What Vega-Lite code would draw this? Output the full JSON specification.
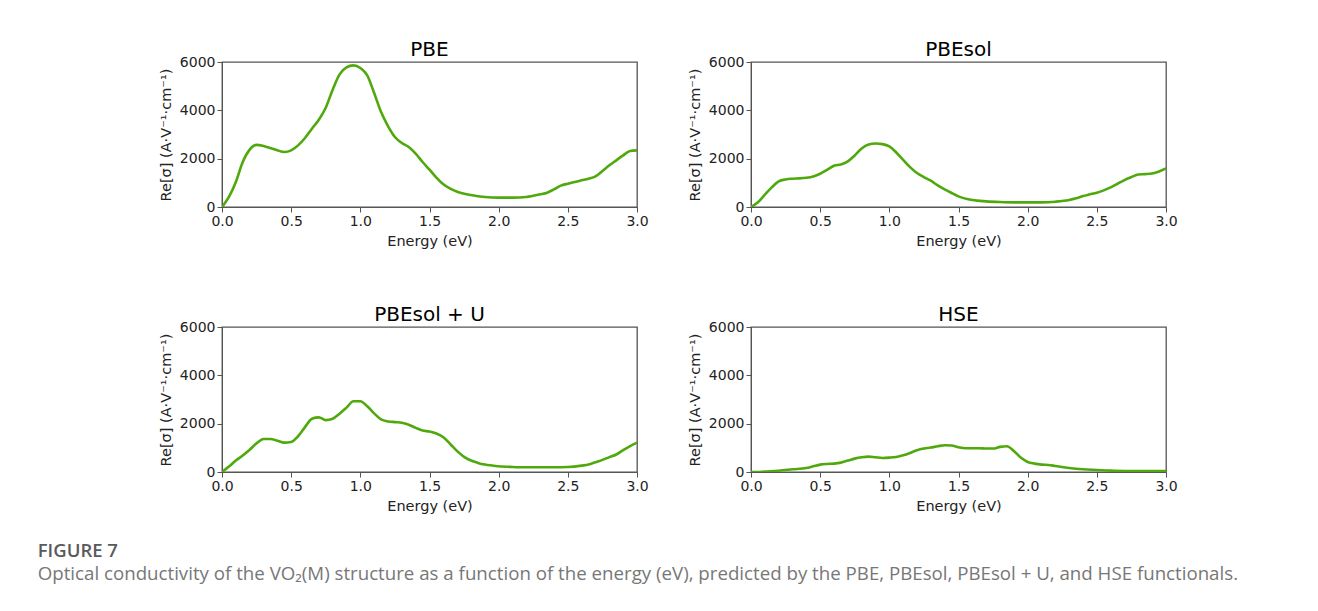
{
  "$schema": "https://vega.github.io/schema/vega-lite/v6.json",
  "background": "white",
  "padding": {"left": 37, "top": 39, "right": 5, "bottom": 5},
  "title": {
    "text": "FIGURE 7",
    "subtitle": "Optical conductivity of the VO₂(M) structure as a function of the energy (eV), predicted by the PBE, PBEsol, PBEsol + U, and HSE functionals.",
    "orient": "bottom",
    "anchor": "start",
    "frame": "bounds",
    "dx": -120,
    "offset": 29,
    "font": "Open Sans",
    "fontSize": 18.5,
    "fontWeight": 600,
    "color": "#5a5a5a",
    "subtitleFont": "Open Sans",
    "subtitleFontSize": 18.7,
    "subtitleColor": "#777777",
    "subtitlePadding": 4
  },
  "data": {"values": [
    {"m":"PBE","e":0,"s":0},{"m":"PBE","e":0.05,"s":414},{"m":"PBE","e":0.1,"s":1034},{"m":"PBE","e":0.15,"s":1862},{"m":"PBE","e":0.2,"s":2372},{"m":"PBE","e":0.25,"s":2570},{"m":"PBE","e":0.3,"s":2524},{"m":"PBE","e":0.35,"s":2441},{"m":"PBE","e":0.4,"s":2345},{"m":"PBE","e":0.45,"s":2276},{"m":"PBE","e":0.5,"s":2345},{"m":"PBE","e":0.55,"s":2551},{"m":"PBE","e":0.6,"s":2855},{"m":"PBE","e":0.65,"s":3241},{"m":"PBE","e":0.7,"s":3613},{"m":"PBE","e":0.75,"s":4110},{"m":"PBE","e":0.8,"s":4855},{"m":"PBE","e":0.85,"s":5490},{"m":"PBE","e":0.9,"s":5780},{"m":"PBE","e":0.95,"s":5860},{"m":"PBE","e":1.0,"s":5752},{"m":"PBE","e":1.05,"s":5448},{"m":"PBE","e":1.1,"s":4717},{"m":"PBE","e":1.15,"s":3931},{"m":"PBE","e":1.2,"s":3351},{"m":"PBE","e":1.25,"s":2897},{"m":"PBE","e":1.3,"s":2648},{"m":"PBE","e":1.35,"s":2483},{"m":"PBE","e":1.4,"s":2207},{"m":"PBE","e":1.45,"s":1862},{"m":"PBE","e":1.5,"s":1545},{"m":"PBE","e":1.55,"s":1214},{"m":"PBE","e":1.6,"s":938},{"m":"PBE","e":1.65,"s":759},{"m":"PBE","e":1.7,"s":634},{"m":"PBE","e":1.8,"s":496},{"m":"PBE","e":1.9,"s":414},{"m":"PBE","e":2.0,"s":386},{"m":"PBE","e":2.1,"s":386},{"m":"PBE","e":2.2,"s":414},{"m":"PBE","e":2.3,"s":524},{"m":"PBE","e":2.35,"s":593},{"m":"PBE","e":2.4,"s":731},{"m":"PBE","e":2.45,"s":883},{"m":"PBE","e":2.5,"s":965},{"m":"PBE","e":2.55,"s":1034},{"m":"PBE","e":2.6,"s":1103},{"m":"PBE","e":2.65,"s":1172},{"m":"PBE","e":2.7,"s":1269},{"m":"PBE","e":2.75,"s":1489},{"m":"PBE","e":2.8,"s":1724},{"m":"PBE","e":2.85,"s":1931},{"m":"PBE","e":2.9,"s":2138},{"m":"PBE","e":2.95,"s":2317},{"m":"PBE","e":3.0,"s":2345},
    {"m":"PBEsol","e":0,"s":0},{"m":"PBEsol","e":0.05,"s":193},{"m":"PBEsol","e":0.1,"s":509},{"m":"PBEsol","e":0.15,"s":812},{"m":"PBEsol","e":0.2,"s":1060},{"m":"PBEsol","e":0.25,"s":1142},{"m":"PBEsol","e":0.3,"s":1170},{"m":"PBEsol","e":0.35,"s":1183},{"m":"PBEsol","e":0.4,"s":1211},{"m":"PBEsol","e":0.45,"s":1266},{"m":"PBEsol","e":0.5,"s":1376},{"m":"PBEsol","e":0.55,"s":1541},{"m":"PBEsol","e":0.6,"s":1706},{"m":"PBEsol","e":0.65,"s":1761},{"m":"PBEsol","e":0.7,"s":1885},{"m":"PBEsol","e":0.75,"s":2133},{"m":"PBEsol","e":0.8,"s":2422},{"m":"PBEsol","e":0.85,"s":2587},{"m":"PBEsol","e":0.9,"s":2628},{"m":"PBEsol","e":0.95,"s":2601},{"m":"PBEsol","e":1.0,"s":2504},{"m":"PBEsol","e":1.05,"s":2257},{"m":"PBEsol","e":1.1,"s":1954},{"m":"PBEsol","e":1.15,"s":1651},{"m":"PBEsol","e":1.2,"s":1404},{"m":"PBEsol","e":1.25,"s":1238},{"m":"PBEsol","e":1.3,"s":1087},{"m":"PBEsol","e":1.35,"s":894},{"m":"PBEsol","e":1.4,"s":729},{"m":"PBEsol","e":1.45,"s":578},{"m":"PBEsol","e":1.5,"s":440},{"m":"PBEsol","e":1.6,"s":289},{"m":"PBEsol","e":1.7,"s":234},{"m":"PBEsol","e":1.8,"s":206},{"m":"PBEsol","e":1.9,"s":193},{"m":"PBEsol","e":2.0,"s":193},{"m":"PBEsol","e":2.1,"s":193},{"m":"PBEsol","e":2.2,"s":220},{"m":"PBEsol","e":2.3,"s":289},{"m":"PBEsol","e":2.35,"s":358},{"m":"PBEsol","e":2.4,"s":454},{"m":"PBEsol","e":2.45,"s":523},{"m":"PBEsol","e":2.5,"s":592},{"m":"PBEsol","e":2.55,"s":688},{"m":"PBEsol","e":2.6,"s":812},{"m":"PBEsol","e":2.65,"s":963},{"m":"PBEsol","e":2.7,"s":1115},{"m":"PBEsol","e":2.75,"s":1238},{"m":"PBEsol","e":2.8,"s":1348},{"m":"PBEsol","e":2.85,"s":1362},{"m":"PBEsol","e":2.9,"s":1390},{"m":"PBEsol","e":2.95,"s":1472},{"m":"PBEsol","e":3.0,"s":1596},
    {"m":"PBEsol + U","e":0,"s":0},{"m":"PBEsol + U","e":0.05,"s":223},{"m":"PBEsol + U","e":0.1,"s":474},{"m":"PBEsol + U","e":0.15,"s":684},{"m":"PBEsol + U","e":0.2,"s":921},{"m":"PBEsol + U","e":0.25,"s":1186},{"m":"PBEsol + U","e":0.3,"s":1367},{"m":"PBEsol + U","e":0.35,"s":1367},{"m":"PBEsol + U","e":0.4,"s":1297},{"m":"PBEsol + U","e":0.45,"s":1214},{"m":"PBEsol + U","e":0.5,"s":1242},{"m":"PBEsol + U","e":0.55,"s":1479},{"m":"PBEsol + U","e":0.6,"s":1855},{"m":"PBEsol + U","e":0.65,"s":2204},{"m":"PBEsol + U","e":0.7,"s":2260},{"m":"PBEsol + U","e":0.75,"s":2148},{"m":"PBEsol + U","e":0.8,"s":2204},{"m":"PBEsol + U","e":0.85,"s":2413},{"m":"PBEsol + U","e":0.9,"s":2664},{"m":"PBEsol + U","e":0.95,"s":2930},{"m":"PBEsol + U","e":1.0,"s":2930},{"m":"PBEsol + U","e":1.05,"s":2720},{"m":"PBEsol + U","e":1.1,"s":2427},{"m":"PBEsol + U","e":1.15,"s":2176},{"m":"PBEsol + U","e":1.2,"s":2093},{"m":"PBEsol + U","e":1.25,"s":2065},{"m":"PBEsol + U","e":1.3,"s":2037},{"m":"PBEsol + U","e":1.35,"s":1953},{"m":"PBEsol + U","e":1.4,"s":1827},{"m":"PBEsol + U","e":1.45,"s":1716},{"m":"PBEsol + U","e":1.5,"s":1674},{"m":"PBEsol + U","e":1.55,"s":1590},{"m":"PBEsol + U","e":1.6,"s":1437},{"m":"PBEsol + U","e":1.65,"s":1158},{"m":"PBEsol + U","e":1.7,"s":865},{"m":"PBEsol + U","e":1.75,"s":628},{"m":"PBEsol + U","e":1.8,"s":474},{"m":"PBEsol + U","e":1.85,"s":377},{"m":"PBEsol + U","e":1.9,"s":307},{"m":"PBEsol + U","e":2.0,"s":237},{"m":"PBEsol + U","e":2.1,"s":209},{"m":"PBEsol + U","e":2.2,"s":195},{"m":"PBEsol + U","e":2.3,"s":195},{"m":"PBEsol + U","e":2.4,"s":195},{"m":"PBEsol + U","e":2.5,"s":209},{"m":"PBEsol + U","e":2.6,"s":265},{"m":"PBEsol + U","e":2.65,"s":307},{"m":"PBEsol + U","e":2.7,"s":405},{"m":"PBEsol + U","e":2.75,"s":502},{"m":"PBEsol + U","e":2.8,"s":614},{"m":"PBEsol + U","e":2.85,"s":725},{"m":"PBEsol + U","e":2.9,"s":907},{"m":"PBEsol + U","e":2.95,"s":1074},{"m":"PBEsol + U","e":3.0,"s":1214},
    {"m":"HSE","e":0,"s":0},{"m":"HSE","e":0.1,"s":14},{"m":"HSE","e":0.2,"s":55},{"m":"HSE","e":0.3,"s":111},{"m":"HSE","e":0.4,"s":166},{"m":"HSE","e":0.45,"s":236},{"m":"HSE","e":0.5,"s":305},{"m":"HSE","e":0.55,"s":333},{"m":"HSE","e":0.6,"s":347},{"m":"HSE","e":0.65,"s":388},{"m":"HSE","e":0.7,"s":471},{"m":"HSE","e":0.75,"s":554},{"m":"HSE","e":0.8,"s":610},{"m":"HSE","e":0.85,"s":638},{"m":"HSE","e":0.9,"s":610},{"m":"HSE","e":0.95,"s":582},{"m":"HSE","e":1.0,"s":596},{"m":"HSE","e":1.05,"s":624},{"m":"HSE","e":1.1,"s":693},{"m":"HSE","e":1.15,"s":790},{"m":"HSE","e":1.2,"s":901},{"m":"HSE","e":1.25,"s":970},{"m":"HSE","e":1.3,"s":1012},{"m":"HSE","e":1.35,"s":1067},{"m":"HSE","e":1.4,"s":1109},{"m":"HSE","e":1.45,"s":1095},{"m":"HSE","e":1.5,"s":1026},{"m":"HSE","e":1.55,"s":984},{"m":"HSE","e":1.6,"s":984},{"m":"HSE","e":1.65,"s":984},{"m":"HSE","e":1.7,"s":970},{"m":"HSE","e":1.75,"s":970},{"m":"HSE","e":1.8,"s":1040},{"m":"HSE","e":1.85,"s":1067},{"m":"HSE","e":1.9,"s":873},{"m":"HSE","e":1.95,"s":596},{"m":"HSE","e":2.0,"s":416},{"m":"HSE","e":2.05,"s":347},{"m":"HSE","e":2.1,"s":305},{"m":"HSE","e":2.15,"s":291},{"m":"HSE","e":2.2,"s":250},{"m":"HSE","e":2.3,"s":166},{"m":"HSE","e":2.4,"s":111},{"m":"HSE","e":2.5,"s":83},{"m":"HSE","e":2.6,"s":55},{"m":"HSE","e":2.7,"s":42},{"m":"HSE","e":2.8,"s":42},{"m":"HSE","e":2.9,"s":42},{"m":"HSE","e":3.0,"s":42}
  ]},
  "facet": {
    "field": "m",
    "type": "nominal",
    "sort": ["PBE", "PBEsol", "PBEsol + U", "HSE"],
    "title": null,
    "header": {"labelFont": "DejaVu Sans", "labelFontSize": 20, "labelColor": "#000000", "labelPadding": -5}
  },
  "columns": 2,
  "spacing": {"column": 37, "row": 55},
  "resolve": {"axis": {"x": "independent", "y": "independent"}},
  "spec": {
    "width": 415,
    "height": 145,
    "mark": {"type": "line", "interpolate": "monotone", "color": "#4fa90d", "strokeWidth": 2.6, "clip": true},
    "encoding": {
      "x": {"field": "e", "type": "quantitative", "scale": {"domain": [0, 3], "nice": false}, "axis": {"values": [0, 0.5, 1, 1.5, 2, 2.5, 3], "format": ".1f", "title": "Energy (eV)"}},
      "y": {"field": "s", "type": "quantitative", "scale": {"domain": [0, 6000], "nice": false}, "axis": {"values": [0, 2000, 4000, 6000], "format": "d", "title": "Re[σ] (A·V⁻¹·cm⁻¹)"}}
    }
  },
  "config": {
    "view": {"stroke": "#555555", "strokeWidth": 1.3},
    "axis": {
      "labelFont": "DejaVu Sans", "labelFontSize": 14, "labelColor": "#222222", "labelPadding": 2,
      "titleFont": "DejaVu Sans", "titleFontSize": 14.5, "titleFontWeight": "normal", "titleColor": "#222222", "titlePadding": 6,
      "tickColor": "#555555", "domainColor": "#555555", "tickSize": 5, "grid": false, "labelFlush": false
    }
  }
}
